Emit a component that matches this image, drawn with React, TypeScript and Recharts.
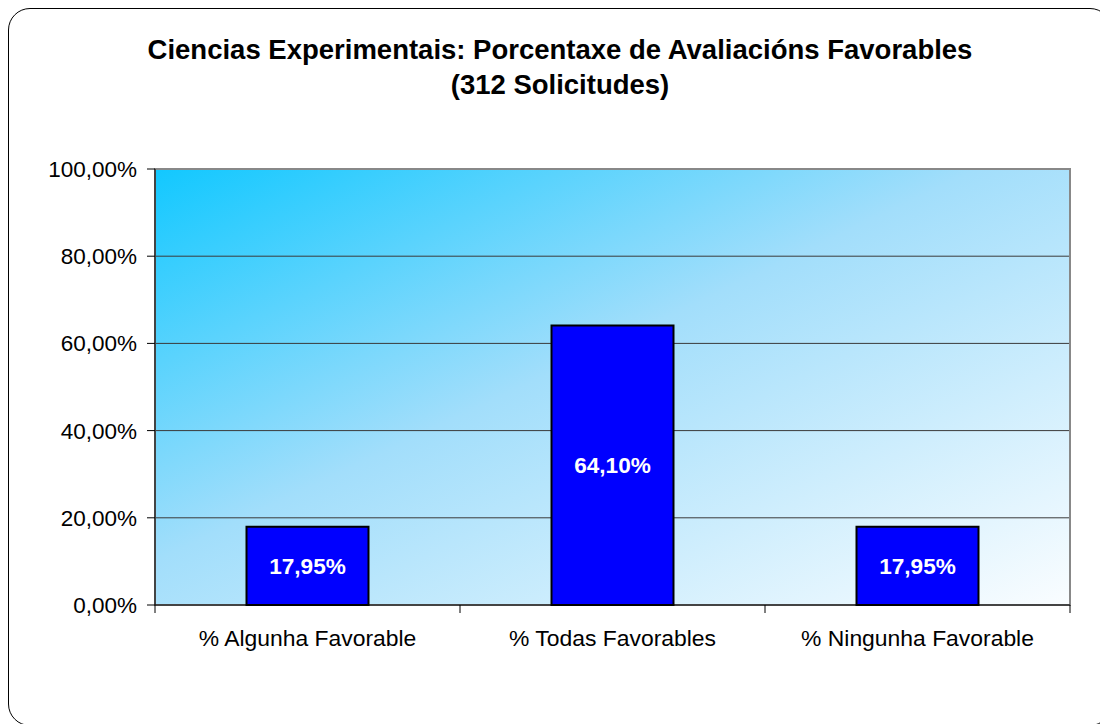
import React from 'react';
import { BarChart, Bar, XAxis, YAxis, CartesianGrid, ReferenceArea, LabelList } from 'recharts';

const categories = ['% Algunha Favorable', '% Todas Favorables', '% Ningunha Favorable'];
const values = [17.95, 64.1, 17.95];
const yTicks = [0, 20, 40, 60, 80, 100];
const titleLines = ['Ciencias Experimentais: Porcentaxe de Avaliacións Favorables', '(312 Solicitudes)'];

const data = categories.map((name, i) => ({ name, value: values[i] }));

const FONT = '"Liberation Sans", Arial, Helvetica, sans-serif';
const fmt = (v: any) => Number(v).toFixed(2).replace('.', ',') + '%';

const CatTick = (props: any) => {
  const { x, y, payload, index, visibleTicksCount } = props;
  const off = payload && typeof payload.offset === 'number' ? payload.offset : 0;
  const last = index === (visibleTicksCount ?? categories.length) - 1;
  return (
    <g>
      <line x1={x - off} x2={x - off} y1={y} y2={y + 8} stroke="#000" strokeWidth={1} />
      {last && <line x1={x + off} x2={x + off} y1={y} y2={y + 8} stroke="#000" strokeWidth={1} />}
      <text x={x} y={y + 41} textAnchor="middle" fontSize={22.9} fontFamily={FONT} fill="#000">
        {payload.value}
      </text>
    </g>
  );
};

export default function App() {
  return (
    <div style={{ position: 'absolute', left: 0, top: 0, width: 1100, height: 724, background: '#fff', overflow: 'hidden' }}>
      <svg width={0} height={0} style={{ position: 'absolute' }}>
        <defs>
          <linearGradient id="plotBg" x1="0" y1="0" x2="1" y2="1">
            <stop offset="0%" stopColor="#12c8ff" />
            <stop offset="45%" stopColor="#a2defb" />
            <stop offset="100%" stopColor="#fafdff" />
          </linearGradient>
        </defs>
      </svg>
      <div
        style={{
          position: 'absolute', left: 8, top: 8, width: 1104, height: 718, boxSizing: 'border-box',
          border: '1.5px solid #000', borderRadius: 22,
        }}
      />
      <div style={{ position: 'absolute', left: 60, width: 1000, top: 32, textAlign: 'center', fontFamily: FONT, fontWeight: 'bold', fontSize: 27.5, lineHeight: '35px', color: '#000' }}>
        {titleLines.map((t) => (
          <div key={t}>{t}</div>
        ))}
      </div>
      <div style={{ position: 'absolute', left: 0, top: 0 }}>
        <BarChart
          width={1100}
          height={724}
          data={data}
          margin={{ top: 169, right: 30, bottom: 59, left: 0 }}
          barCategoryGap="30%"
        >
          <CartesianGrid fill="url(#plotBg)" vertical={false} stroke="#3a3a3a" strokeWidth={1} horizontalValues={[20, 40, 60, 80]} />
          <ReferenceArea y1={0} y2={100} fill="none" stroke="#888" strokeWidth={2} ifOverflow="extendDomain" />
          <XAxis
            dataKey="name"
            interval={0}
            height={60}
            axisLine={{ stroke: '#000', strokeWidth: 1 }}
            tickLine={false}
            tickSize={0}
            tickMargin={0}
            tick={<CatTick />}
          />
          <YAxis
            width={155}
            domain={[0, 100]}
            ticks={yTicks}
            tickFormatter={fmt}
            axisLine={{ stroke: '#000', strokeWidth: 1 }}
            tickLine={{ stroke: '#000', strokeWidth: 1 }}
            tickSize={8}
            tickMargin={10}
            tick={{ fontSize: 22.5, fontFamily: FONT, fill: '#000' }}
          />
          <Bar dataKey="value" fill="#0000ff" stroke="#000" strokeWidth={2} isAnimationActive={false}>
            <LabelList dataKey="value" position="center" formatter={fmt} fill="#fff" fontSize={22.6} fontWeight="bold" fontFamily={FONT} />
          </Bar>
        </BarChart>
      </div>
    </div>
  );
}
